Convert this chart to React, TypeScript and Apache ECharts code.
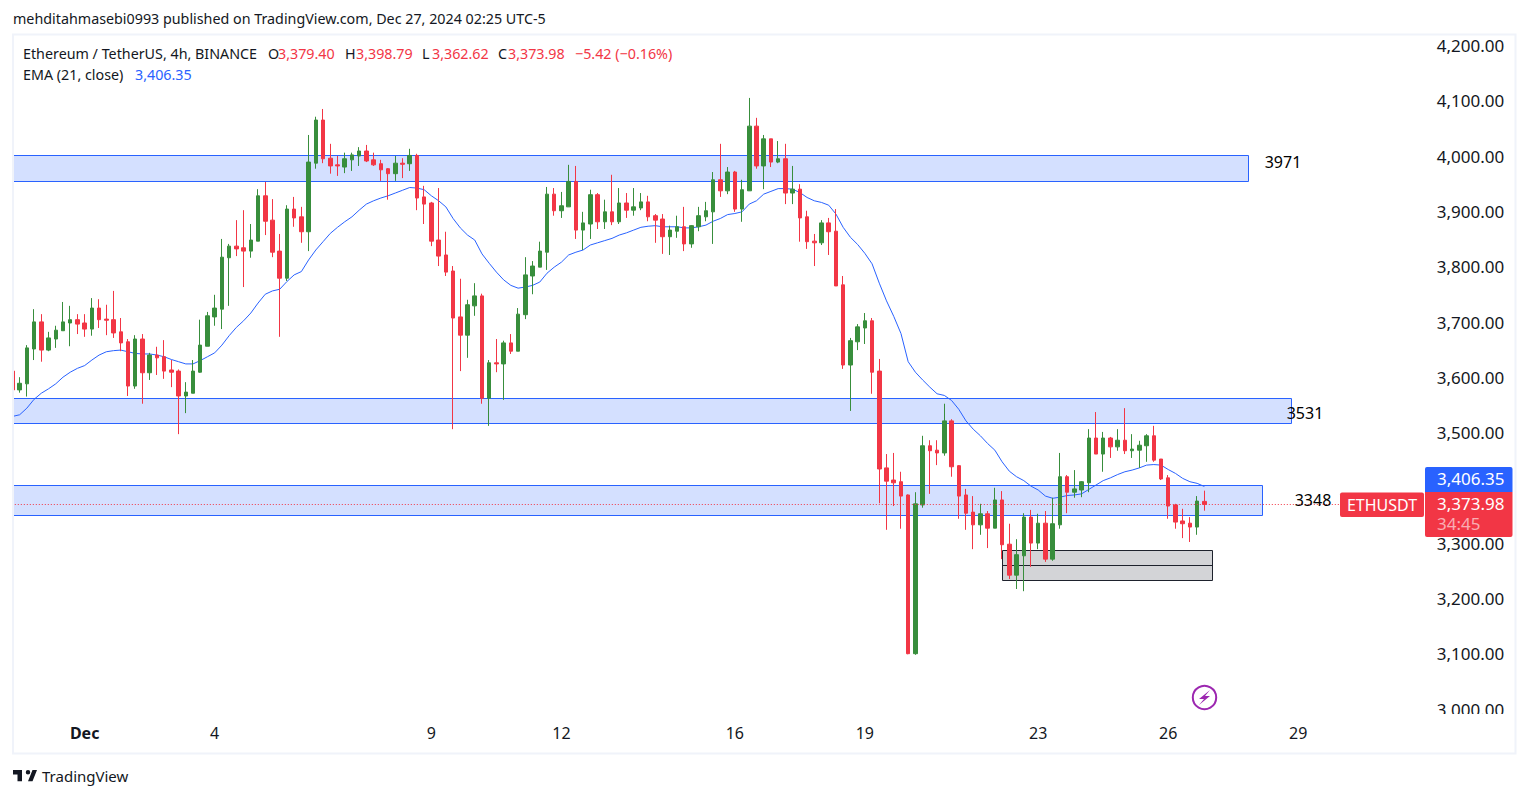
import React, { useEffect, useRef } from "react";
import * as echarts from "echarts";

const opens = [
3615,3581,3592,3655,3704,3653,3673,3688,3702,3708,
3702,3691,3729,3709,3708,3686,3668,3588,3673,3612,
3644,3641,3617,3615,3570,3575,3613,3660,3713,3727,
3820,3841,3838,3832,3850,3932,3888,3832,3783,3908,
3894,3867,3991,4069,4000,3988,3984,3997,4004,4013,
3997,3990,3981,3972,3991,3990,4005,3930,3919,3852,
3825,3796,3713,3680,3733,3751,3566,3630,3628,3666,
3651,3717,3787,3803,3830,3935,3905,3912,3958,3870,
3881,3934,3885,3903,3885,3919,3906,3910,3921,3896,
3890,3858,3868,3876,3845,3876,3894,3903,3961,3941,
3975,3908,3941,4058,3986,4035,3993,3999,3937,3944,
3894,3850,3847,3883,3868,3771,3626,3668,3693,3706,
3615,3440,3418,3415,3391,3104,3373,3480,3472,3467,
3525,3444,3391,3360,3337,3357,3331,3382,3302,3246,
3281,3351,3304,3340,3275,3337,3424,3396,3400,3413,
3494,3465,3494,3478,3490,3471,3472,3480,3498,3456,
3422,3373,3344,3340,3333,3379.4];
const closes = [
3581,3593,3657,3704,3653,3675,3689,3704,3708,3700,
3691,3729,3708,3707,3684,3666,3588,3673,3612,3644,
3639,3615,3613,3570,3577,3615,3662,3715,3729,3821,
3841,3836,3832,3852,3932,3886,3830,3783,3908,3892,
3867,3993,4069,3999,3986,3986,3999,4006,4013,3995,
3988,3979,3972,3991,3989,4005,3928,3917,3850,3823,
3794,3711,3680,3735,3751,3566,3630,3628,3666,3651,
3718,3789,3805,3832,3935,3905,3914,3958,3870,3883,
3934,3885,3903,3885,3919,3906,3912,3921,3894,3888,
3858,3870,3876,3845,3878,3896,3905,3961,3941,3975,
3908,3943,4058,3986,4035,3993,3999,3937,3944,3892,
3849,3847,3883,3867,3769,3626,3670,3695,3706,3613,
3438,3416,3413,3389,3104,3375,3480,3471,3467,3525,
3442,3389,3358,3337,3357,3331,3382,3301,3246,3283,
3351,3304,3340,3275,3339,3424,3396,3402,3415,3494,
3465,3494,3478,3490,3471,3474,3481,3498,3454,3420,
3371,3342,3339,3333,3380,3373.98];
const lows = [
3578,3576,3569,3635,3632,3651,3657,3688,3660,3682,
3677,3679,3693,3680,3675,3651,3570,3583,3556,3599,
3608,3601,3586,3501,3539,3575,3612,3660,3697,3691,
3733,3823,3767,3820,3850,3861,3821,3677,3778,3876,
3847,3832,3981,3991,3972,3968,3973,3977,3986,3993,
3986,3959,3925,3959,3964,3977,3906,3881,3841,3805,
3787,3510,3615,3639,3715,3556,3516,3613,3563,3646,
3651,3709,3754,3803,3798,3896,3892,3912,3854,3834,
3854,3872,3872,3879,3881,3892,3896,3906,3886,3847,
3827,3825,3856,3832,3838,3868,3886,3845,3930,3935,
3903,3885,3941,3981,3944,3984,3991,3917,3917,3849,
3836,3805,3843,3825,3769,3619,3543,3653,3664,3574,
3376,3328,3371,3330,3103,3102,3368,3393,3445,3462,
3424,3348,3328,3293,3319,3295,3331,3275,3239,3221,
3217,3261,3293,3270,3272,3330,3358,3386,3387,3396,
3465,3433,3458,3471,3465,3458,3440,3451,3451,3418,
3348,3330,3313,3306,3319,3362.62];
const highs = [
3620,3604,3662,3727,3718,3686,3697,3740,3733,3718,
3718,3747,3745,3735,3760,3711,3673,3680,3682,3648,
3659,3671,3635,3618,3595,3635,3708,3722,3753,3854,
3845,3888,3906,3881,3944,3957,3926,3863,3915,3930,
3912,4042,4075,4089,4026,4004,4010,4010,4020,4024,
4010,3997,3982,4004,4000,4017,4008,3950,3921,3946,
3867,3805,3782,3744,3774,3755,3635,3673,3670,3682,
3729,3821,3814,3849,3948,3946,3939,3988,3986,3903,
3943,3937,3925,3970,3946,3937,3946,3937,3932,3899,
3899,3878,3896,3912,3879,3912,3921,3975,4026,3984,
3977,3961,4109,4073,4042,4035,4031,4026,3986,3953,
3905,3863,3888,3892,3908,3787,3675,3700,3720,3711,
3637,3465,3467,3433,3392,3396,3498,3490,3490,3556,
3528,3445,3402,3389,3375,3362,3404,3398,3339,3311,
3358,3364,3357,3362,3386,3467,3427,3436,3416,3510,
3541,3505,3496,3510,3548,3501,3489,3501,3516,3456,
3427,3375,3366,3351,3389,3398.79];
const ema = [
3533,3536,3548,3564,3575,3583,3592,3604,3613,3620,
3625,3635,3644,3650,3652,3653,3650,3647,3646,3646,
3644,3641,3636,3632,3628,3628,3634,3641,3648,3662,
3679,3694,3706,3720,3738,3754,3760,3763,3777,3789,
3795,3816,3834,3849,3864,3875,3885,3894,3906,3917,
3923,3928,3932,3937,3942,3947,3946,3943,3932,3923,
3912,3891,3874,3861,3852,3827,3810,3794,3780,3770,
3765,3767,3770,3776,3792,3803,3812,3825,3830,3834,
3843,3847,3851,3855,3861,3865,3870,3875,3877,3878,
3876,3876,3876,3874,3874,3876,3879,3886,3891,3898,
3900,3903,3917,3923,3935,3940,3945,3945,3944,3938,
3929,3923,3920,3915,3899,3875,3857,3844,3828,3809,
3774,3742,3714,3683,3632,3613,3599,3586,3574,3571,
3562,3546,3525,3510,3498,3484,3472,3451,3434,3424,
3417,3407,3400,3389,3385,3387,3390,3391,3393,3401,
3409,3417,3422,3428,3433,3436,3440,3445,3446,3445,
3437,3430,3421,3415,3412,3406.35];

const dayTicks: Record<number, string> = { 10: "Dec", 28: "4", 58: "9", 76: "12", 100: "16", 118: "19", 142: "23", 160: "26", 178: "29" };
const slotCount = 196;
const categories = Array.from({ length: slotCount }, (_, i) => dayTicks[i] ?? `c${i}`);

// [fromIndex, toIndex, upperPrice, lowerPrice]
const blueZones = [
  [-0.5, 171.1, 4005, 3958],
  [-0.5, 177, 3566, 3521],
  [-0.5, 173, 3408.5, 3354],
];
const greyZone = [137, 166.1, 3291, 3237];
const greyMid = 3264;
const lastPrice = 3373.98;
const hiddenPriceTick = 3400; // sits behind the price tags, as in the reference

const GREEN = "#388E3C";
const RED = "#F23645";
const BLUE = "#2962FF";
const INK = "#131722";
const FONT = '"Noto Sans", sans-serif';

echarts.graphic.registerShape(
  "tvlogo",
  echarts.graphic.extendPath("M14 6H2v6h6v9h6V6zM28 21h-6l6-15h6l-6 15zM22 12a3 3 0 1 0 0-6 3 3 0 0 0 0 6z", {}) as any
);

const txt = (text: string, x: number, y: number, fill: string, size = 14.3, extra: any = {}) => ({
  type: "text", x, y, z: 110,
  style: { text, fill, font: `${extra.weight ?? "normal"} ${size}px ${FONT}`, textAlign: extra.align ?? "left", textVerticalAlign: "middle" },
});

export default function App() {
  const ref = useRef<HTMLDivElement>(null);
  useEffect(() => {
    const chart = echarts.init(ref.current!, undefined, { renderer: "svg" });
    const candle = opens.map((o, i) => [o, closes[i], lows[i], highs[i]]);
    const zoneData = [
      ...blueZones.map((z) => [...z, 0]),
      [...greyZone, 1],
      [greyZone[0], greyZone[1], greyMid, greyMid, 2],
    ];
    chart.setOption({
      animation: false,
      backgroundColor: "#ffffff",
      grid: { left: 8.8, top: 47.6, width: 1415.9, height: 663.6, containLabel: false },
      xAxis: [
        {
          type: "category", data: categories, boundaryGap: true,
          axisLine: { show: false }, axisTick: { show: false }, splitLine: { show: false },
          axisLabel: {
            interval: (i: number) => dayTicks[i] !== undefined,
            margin: 14,
            color: INK, fontFamily: FONT, fontSize: 16,
            formatter: (v: string) => (v === "Dec" ? "{b|Dec}" : v),
            rich: { b: { fontWeight: "bold", color: INK, fontFamily: FONT, fontSize: 16 } },
          },
        },
        { type: "value", min: -0.5, max: slotCount - 0.5, show: false, splitLine: { show: false } },
      ],
      yAxis: {
        type: "value", position: "right", min: 3000, max: 4200, interval: 100,
        axisLine: { show: false }, axisTick: { show: false }, splitLine: { show: false },
        axisLabel: {
          margin: 12, color: INK, fontFamily: FONT, fontSize: 17,
          verticalAlign: "bottom", lineHeight: 4,
          formatter: (v: number) => v === hiddenPriceTick ? "" : v.toFixed(2).replace(/\B(?=(\d{3})+(?!\d))(?=.*\.)/g, ","),
        },
      },
      series: [
        {
          type: "custom", xAxisIndex: 1, yAxisIndex: 0, z: 1, silent: true, clip: true,
          data: zoneData, encode: { x: [0, 1], y: [2, 3] },
          renderItem: (_: any, api: any) => {
            const a = api.coord([api.value(0), api.value(2)]);
            const b = api.coord([api.value(1), api.value(3)]);
            const kind = api.value(4);
            const x0 = Math.round(a[0]) + 0.5, x1 = Math.round(b[0]) + 0.5;
            const y0 = Math.round(a[1]) + 0.5, y1 = Math.round(b[1]) + 0.5;
            if (kind === 2) return { type: "line", shape: { x1: x0, y1: y0, x2: x1, y2: y1 }, style: { stroke: "#1E222D", lineWidth: 1 } };
            return {
              type: "rect", shape: { x: x0, y: y0, width: x1 - x0, height: y1 - y0 },
              style: kind === 0
                ? { fill: "rgba(41,98,255,0.2)", stroke: BLUE, lineWidth: 1 }
                : { fill: "rgba(120,123,134,0.33)", stroke: "#1E222D", lineWidth: 1 },
            };
          },
        },
        {
          type: "line", xAxisIndex: 1, yAxisIndex: 0, z: 2, silent: true,
          data: ema.map((v, i) => [i, v]), symbol: "none", smooth: false,
          lineStyle: { color: BLUE, width: 1 },
        },
        {
          type: "candlestick", xAxisIndex: 0, yAxisIndex: 0, z: 3, silent: true,
          data: candle, barWidth: 4,
          itemStyle: { color: GREEN, color0: RED, borderColor: GREEN, borderColor0: RED, borderWidth: 1 },
          markLine: {
            silent: true, symbol: "none", label: { show: false },
            lineStyle: { color: RED, width: 1, type: [1, 2] },
            data: [{ yAxis: lastPrice }],
          },
        },
      ],
      graphic: { elements: [
        { type: "rect", z: 100, shape: { x: 0, y: 35, width: 13, height: 680 }, style: { fill: "#fff" } },
        { type: "rect", z: 100, shape: { x: 1426, y: 714, width: 88, height: 8 }, style: { fill: "#fff" } },
        { type: "rect", z: 101, shape: { x: 13, y: 34.5, width: 1502.5, height: 719 }, style: { fill: "none", stroke: "#F0F3FA", lineWidth: 2 } },
        txt("mehditahmasebi0993 published on TradingView.com, Dec 27, 2024 02:25 UTC-5", 13, 18.5, INK),
        txt("Ethereum / TetherUS, 4h, BINANCE", 23, 53, INK),
        txt("O", 268, 53, INK), txt("3,379.40", 278, 53, RED),
        txt("H", 345, 53, INK), txt("3,398.79", 356, 53, RED),
        txt("L", 422, 53, INK), txt("3,362.62", 432, 53, RED),
        txt("C", 498, 53, INK), txt("3,373.98", 508, 53, RED),
        txt("−5.42 (−0.16%)", 575, 53, RED),
        txt("EMA (21, close)", 23, 74, INK), txt("3,406.35", 135, 74, BLUE),
        txt("3971", 1283, 162, "#000", 16, { align: "center" }),
        txt("3531", 1305, 412.5, "#000", 16, { align: "center" }),
        txt("3348", 1313, 499.5, "#000", 16, { align: "center" }),
        { type: "rect", z: 105, shape: { x: 1340, y: 492.5, width: 84, height: 24.5, r: 2 }, style: { fill: RED } },
        txt("ETHUSDT", 1382, 505, "#fff", 16, { align: "center" }),
        { type: "rect", z: 105, shape: { x: 1425, y: 467, width: 87.5, height: 25, r: [2, 2, 0, 0] }, style: { fill: BLUE } },
        txt("3,406.35", 1437, 478.5, "#fff", 17),
        { type: "rect", z: 105, shape: { x: 1425, y: 492, width: 87.5, height: 45, r: [0, 0, 2, 2] }, style: { fill: RED } },
        txt("3,373.98", 1437, 503, "#fff", 17),
        txt("34:45", 1437, 523, "rgba(255,255,255,0.6)", 17),
        { type: "circle", z: 106, shape: { cx: 1204.5, cy: 697.5, r: 11.7 }, style: { fill: "#fff", stroke: "#9C27B0", lineWidth: 2 } },
        { type: "polygon", z: 107, shape: { points: [[1210, 690], [1199, 699], [1204, 699], [1199, 705], [1210, 696], [1205, 696]] }, style: { fill: "#9C27B0" } },
        { type: "tvlogo", z: 110, x: 11.5, y: 765.5, scaleX: 0.75, scaleY: 0.75, style: { fill: INK } },
        txt("TradingView", 42, 776, INK, 15),
      ] },
    });
    return () => chart.dispose();
  }, []);
  return <div ref={ref} style={{ position: "fixed", left: 0, top: 0, width: 1529, height: 798 }} />;
}
